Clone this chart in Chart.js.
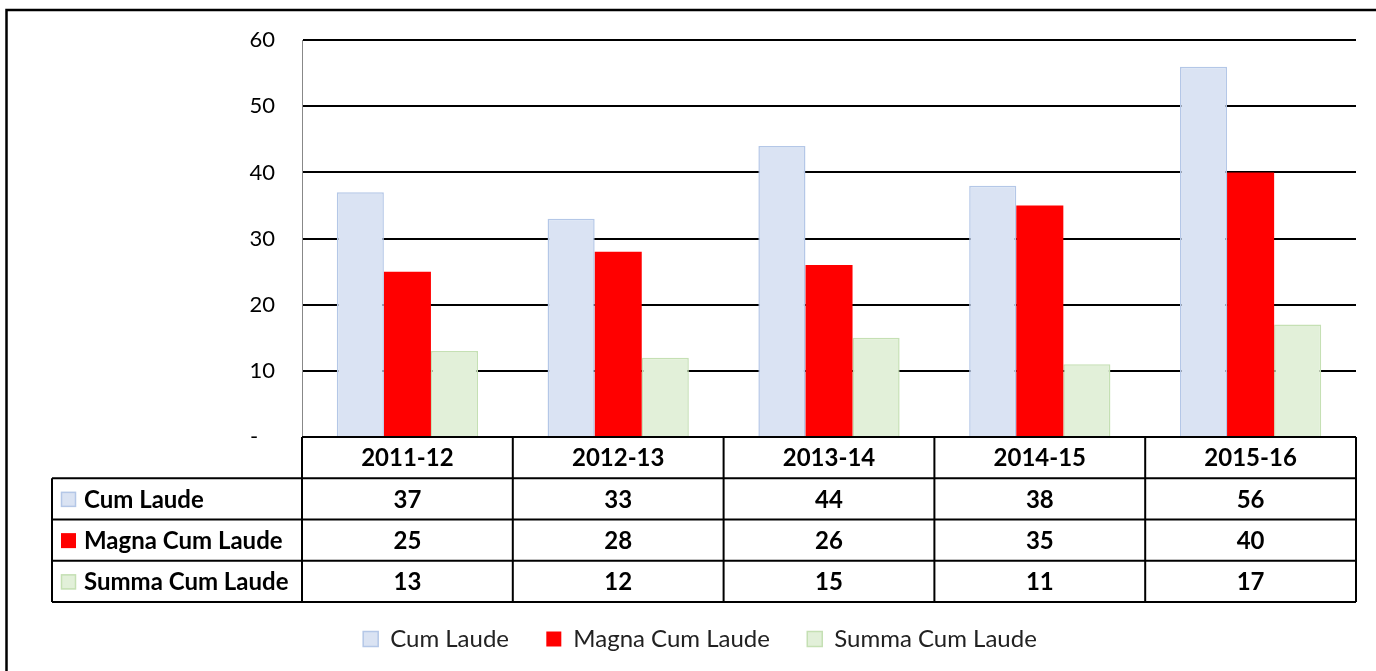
<!DOCTYPE html>
<html>
<head>
<meta charset="utf-8">
<script src="https://cdn.jsdelivr.net/npm/chart.js@4/dist/chart.umd.min.js"></script>
<style>
  html, body { margin: 0; padding: 0; background: #fff; }
  #box { position: absolute; left: 0; top: 0; width: 1376px; height: 671px; }
</style>
</head>
<body>
<div id="box"><canvas id="grafico"></canvas></div>
<script>
const categorias = ['2011-12', '2012-13', '2013-14', '2014-15', '2015-16'];
const cumLaude = [37, 33, 44, 38, 56];
const magnaCumLaude = [25, 28, 26, 35, 40];
const summaCumLaude = [13, 12, 15, 11, 17];
const nomesSeries = ['Cum Laude', 'Magna Cum Laude', 'Summa Cum Laude'];

const fonte = 'Lato, "Open Sans", sans-serif';

const series = [
  { label: nomesSeries[0], data: cumLaude, backgroundColor: '#dae3f3', borderColor: '#b4c7e7', borderWidth: 1.5 },
  { label: nomesSeries[1], data: magnaCumLaude, backgroundColor: '#ff0000', borderColor: '#ff0000', borderWidth: 0 },
  { label: nomesSeries[2], data: summaCumLaude, backgroundColor: '#e2f0d9', borderColor: '#c5e0b4', borderWidth: 1.5 }
];

// moldura do gráfico (só a borda esquerda e a de cima aparecem no recorte)
const moldura = {
  id: 'moldura',
  beforeDraw(chart) {
    const ctx = chart.ctx;
    ctx.save();
    ctx.fillStyle = '#fff';
    ctx.fillRect(0, 0, chart.width, chart.height);
    ctx.strokeStyle = '#000';
    ctx.lineWidth = 2.5;
    ctx.beginPath();
    ctx.moveTo(6.5, chart.height + 5);
    ctx.lineTo(6.5, 10);
    ctx.lineTo(chart.width + 5, 10);
    ctx.stroke();
    ctx.restore();
  }
};

// tabela de dados embaixo do eixo x
const tabela = {
  id: 'tabela',
  afterDraw(chart) {
    const ctx = chart.ctx;
    const area = chart.chartArea;
    const eixoX = chart.scales.x;
    const n = categorias.length;
    const larg = (area.right - area.left) / n;
    const topo = area.bottom;
    const alt = eixoX.height / 4;
    const esq = 52;
    const fim = topo + alt * 4;

    ctx.save();
    ctx.strokeStyle = '#000';
    ctx.lineWidth = 2;
    ctx.beginPath();
    // linhas horizontais
    ctx.moveTo(area.left, topo); ctx.lineTo(area.right, topo);
    for (let r = 1; r <= 4; r++) {
      ctx.moveTo(esq, topo + alt * r); ctx.lineTo(area.right, topo + alt * r);
    }
    // linhas verticais
    ctx.moveTo(esq, topo + alt); ctx.lineTo(esq, fim);
    for (let c = 0; c <= n; c++) {
      const xx = area.left + larg * c;
      ctx.moveTo(xx, topo); ctx.lineTo(xx, fim);
    }
    ctx.stroke();

    ctx.fillStyle = '#000';
    ctx.font = 'bold 24px ' + fonte;
    ctx.textBaseline = 'middle';
    ctx.textAlign = 'center';
    categorias.forEach((cat, i) => {
      ctx.fillText(cat, eixoX.getPixelForValue(i), topo + alt / 2 + 1);
    });

    series.forEach((s, r) => {
      const yMeio = topo + alt * (r + 1.5) + 1;
      // chave de cor
      ctx.fillStyle = s.backgroundColor;
      ctx.fillRect(61, yMeio - 8, 15, 15);
      if (s.borderWidth) {
        ctx.strokeStyle = s.borderColor;
        ctx.lineWidth = 1.5;
        ctx.strokeRect(61.5, yMeio - 7.5, 14, 14);
      }
      ctx.fillStyle = '#000';
      ctx.textAlign = 'left';
      ctx.fillText(s.label, 84, yMeio);
      ctx.textAlign = 'center';
      s.data.forEach((v, i) => {
        ctx.fillText(String(v), eixoX.getPixelForValue(i), yMeio);
      });
    });
    ctx.restore();
  }
};

const ctx = document.getElementById('grafico').getContext('2d');
new Chart(ctx, {
  type: 'bar',
  data: {
    labels: categorias,
    datasets: series.map(s => ({
      label: s.label,
      data: s.data,
      backgroundColor: s.backgroundColor,
      borderColor: s.borderColor,
      borderWidth: s.borderWidth,
      categoryPercentage: 0.67,
      barPercentage: 1
    }))
  },
  options: {
    responsive: true,
    maintainAspectRatio: false,
    animation: false,
    layout: { padding: { left: 44, right: 20, top: 0, bottom: 10 } },
    plugins: {
      tooltip: { enabled: false },
      legend: {
        position: 'bottom',
        labels: {
          font: { family: fonte, size: 24 },
          color: '#222',
          boxWidth: 15,
          boxHeight: 15,
          padding: 25,
          generateLabels(chart) {
            const itens = Chart.defaults.plugins.legend.labels.generateLabels(chart);
            itens.forEach((it, i) => { if (i < itens.length - 1) it.text = it.text + '  '; });
            return itens;
          }
        }
      }
    },
    scales: {
      x: {
        ticks: { display: false },
        grid: { display: false },
        border: { display: false },
        afterFit(escala) { escala.height = 165; }
      },
      y: {
        min: 0,
        max: 60,
        ticks: {
          stepSize: 10,
          padding: 27,
          color: '#000',
          font: { family: fonte, size: 22 },
          callback: v => v === 0 ? '-   ' : v
        },
        grid: { color: '#000', lineWidth: 2, drawTicks: false },
        border: { display: true, color: '#888', width: 1 },
        afterFit(escala) { escala.width = 258; }
      }
    }
  },
  plugins: [moldura, tabela]
});
</script>
</body>
</html>
